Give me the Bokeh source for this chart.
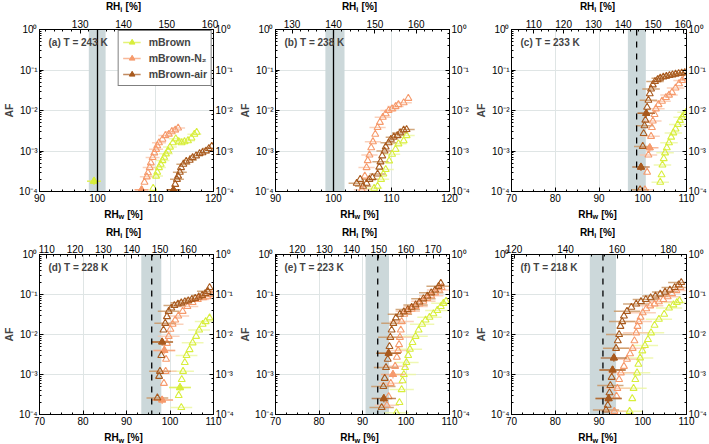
from bokeh.plotting import figure
from bokeh.models import (Range1d, LinearAxis, LogAxis, Label, BoxAnnotation, Span,
                          Legend, LegendItem, SingleIntervalTicker, CustomJSTickFormatter)
from bokeh.core.properties import value
from bokeh.layouts import column, row
from bokeh.embed import file_html
from bokeh.resources import INLINE

# ---------------- data ----------------
TAGS = ["(a)", "(b)", "(c)", "(d)", "(e)", "(f)"]
TEMPS = [243, 238, 233, 228, 223, 218]
RHW_MIN = [90, 90, 70, 70, 70, 70]
RHW_MAX = [120, 120, 110, 110, 110, 110]
RHI_RATIO = [1.34, 1.40, 1.465, 1.535, 1.60, 1.70]
RHI_STEP = [10, 10, 10, 10, 10, 20]
SAT_LINE = [100.0, 100.0, 98.6, 95.8, 93.5, 90.9]
SAT_DASHED = [False, False, True, True, True, True]
BAND_LO = [98.5, 98.6, 96.6, 93.4, 90.7, 87.9]
BAND_HI = [101.4, 101.9, 100.7, 98.0, 96.1, 93.9]
XERR_HALF = [1.2, 1.4, 2.0, 2.5, 2.8, 3.0]
SERIES = ["mBrown", "mBrown-N\u2082", "mBrown-air"]

A_MB_X = [99.4, 109.6, 110.1, 110.3, 110.6, 110.9, 111.2, 111.5, 111.8, 112.2, 112.5, 113.0, 113.5, 114.0, 114.5, 115.0, 115.6, 116.2, 116.7, 117.1]
A_MB_Y = [1.8e-4, 1.2e-4, 2.4e-4, 3e-4, 3.9e-4, 4.7e-4, 5.8e-4, 7e-4, 8.5e-4, 1.0e-3, 1.25e-3, 1.6e-3, 2.0e-3, 1.7e-3, 1.6e-3, 1.7e-3, 1.8e-3, 2.1e-3, 2.6e-3, 2.9e-3]
A_N2_X = [107.6, 108.1, 108.5, 108.7, 109.0, 109.2, 109.5, 109.8, 110.1, 110.3, 110.6, 111.2, 111.7, 112.3, 112.8, 113.4, 113.9]
A_N2_Y = [1.1e-4, 1.7e-4, 2.3e-4, 2.9e-4, 3.9e-4, 5.1e-4, 6.9e-4, 9e-4, 1.1e-3, 1.35e-3, 1.6e-3, 1.95e-3, 2.4e-3, 2.6e-3, 3.0e-3, 3.3e-3, 3.7e-3]
A_AIR_X = [113.1, 113.4, 113.7, 113.9, 114.2, 114.4, 114.8, 115.3, 115.9, 116.4, 117.0, 117.6, 118.1, 118.7, 119.2, 119.7]
A_AIR_Y = [1.1e-4, 1.5e-4, 2e-4, 2.4e-4, 3e-4, 3.9e-4, 4.7e-4, 5.6e-4, 5.9e-4, 6.9e-4, 7.6e-4, 8.7e-4, 9.1e-4, 1.0e-3, 1.15e-3, 1.3e-3]

B_MB_X = [107.0, 107.6, 108.2, 108.6, 109.0, 109.6, 110.1, 110.7, 111.2, 112.1, 112.6]
B_MB_Y = [1.2e-4, 1.35e-4, 2e-4, 2.7e-4, 3.5e-4, 5.7e-4, 8.3e-4, 1.1e-3, 1.5e-3, 1.8e-3, 2.4e-3]
B_N2_X = [104.9, 105.4, 105.7, 105.9, 106.2, 106.5, 106.8, 107.2, 107.6, 108.0, 108.5, 109.0, 109.5, 110.1, 110.7, 111.2, 112.1, 112.9]
B_N2_Y = [1.1e-4, 2.4e-4, 3.9e-4, 5.8e-4, 8e-4, 1.2e-3, 1.7e-3, 2.6e-3, 3.8e-3, 5.1e-3, 6.8e-3, 8.3e-3, 1.0e-2, 1.1e-2, 1.25e-2, 1.4e-2, 1.55e-2, 2.0e-2]
B_AIR_X = [104.0, 104.6, 105.1, 105.7, 106.2, 106.7, 107.6, 107.9, 108.1, 108.4, 108.8, 109.0, 109.5, 109.9, 110.4, 111.0, 111.5, 112.1, 112.6]
B_AIR_Y = [1.6e-4, 2.0e-4, 1.35e-4, 1.6e-4, 2.0e-4, 2.2e-4, 2.7e-4, 4e-4, 5.4e-4, 7.6e-4, 1.0e-3, 1.26e-3, 1.6e-3, 1.95e-3, 2.2e-3, 2.4e-3, 2.8e-3, 3.3e-3, 3.4e-3]

C_MB_X = [104.0, 104.3, 104.5, 104.8, 105.1, 105.5, 106.0, 106.5, 107.0, 107.5, 108.0, 108.5, 109.0, 109.5, 109.9]
C_MB_Y = [1.7e-4, 2.6e-4, 4.5e-4, 6.5e-4, 9e-4, 1.2e-3, 1.6e-3, 2.2e-3, 2.8e-3, 3.5e-3, 4.5e-3, 5.7e-3, 6.8e-3, 8e-3, 9e-3]
C_N2_X = [100.5, 101.0, 101.3, 101.6, 101.9, 102.1, 102.3, 102.7, 103.0, 103.6, 104.4, 105.3, 106.0, 106.7, 107.5, 108.3, 109.0, 109.7]
C_N2_Y = [1.1e-4, 3.0e-4, 8e-4, 1.2e-3, 2.3e-3, 3.8e-3, 5.5e-3, 8e-3, 1.1e-2, 1.4e-2, 1.7e-2, 2.1e-2, 2.4e-2, 2.8e-2, 3.6e-2, 4.6e-2, 5.5e-2, 6.5e-2]
C_AIR_X = [99.4, 99.6, 100.0, 100.2, 100.4, 100.6, 100.8, 101.0, 101.3, 101.6, 101.9, 102.3, 102.8, 103.4, 104.0, 104.7, 105.4, 106.1, 106.8, 107.5, 108.2, 108.9, 109.6]
C_AIR_Y = [1.1e-4, 4.0e-4, 1.3e-3, 2.7e-3, 4.2e-3, 5.8e-3, 8.5e-3, 1.2e-2, 1.8e-2, 2.6e-2, 3.4e-2, 4.3e-2, 5.2e-2, 5.8e-2, 6.3e-2, 6.7e-2, 7.0e-2, 7.3e-2, 7.6e-2, 7.9e-2, 8.2e-2, 8.4e-2, 8.6e-2]

D_MB_X = [102.6, 102.0, 102.3, 102.7, 103.0, 103.4, 103.8, 104.5, 105.2, 106.0, 106.7, 107.5, 108.2, 109.1]
D_MB_Y = [1.5e-4, 3.0e-4, 4.7e-4, 7.5e-4, 1.2e-3, 2.0e-3, 3.0e-3, 4.2e-3, 6.2e-3, 9e-3, 1.3e-2, 1.8e-2, 2.1e-2, 2.6e-2]
D_N2_X = [98.2, 98.6, 99.0, 99.1, 98.7, 99.3, 99.7, 100.1, 100.6, 101.2, 101.9, 102.9, 104.0, 105.2, 106.4, 107.6, 108.6, 109.5]
D_N2_Y = [2.3e-4, 6e-4, 1.2e-3, 2.4e-3, 4e-3, 6e-3, 9e-3, 1.35e-2, 1.8e-2, 2.3e-2, 2.9e-2, 3.8e-2, 5e-2, 6.3e-2, 7.5e-2, 8.3e-2, 8.8e-2, 1.0e-1]
D_AIR_X = [97.1, 97.5, 97.7, 98.0, 98.2, 98.5, 98.9, 99.3, 99.7, 100.3, 101.0, 101.8, 102.6, 103.4, 104.2, 105.0, 105.8, 106.6, 107.4, 108.1, 108.7, 109.1]
D_AIR_Y = [2.6e-4, 9e-4, 1.2e-3, 3e-3, 6.5e-3, 1.3e-2, 1.9e-2, 2.8e-2, 3.8e-2, 4.6e-2, 5.3e-2, 5.8e-2, 6.2e-2, 6.6e-2, 7.0e-2, 7.5e-2, 8.0e-2, 8.7e-2, 9.5e-2, 1.05e-1, 1.2e-1, 1.5e-1]

E_MB_X = [97.8, 98.5, 99.0, 99.2, 99.5, 99.8, 100.1, 100.5, 100.9, 101.5, 102.2, 102.9, 103.7, 104.5, 105.4, 106.3, 107.2, 108.0, 108.6, 109.2]
E_MB_Y = [1.1e-4, 2.0e-4, 4.2e-4, 7e-4, 1.0e-3, 1.5e-3, 2.0e-3, 3.0e-3, 4.3e-3, 6.3e-3, 9e-3, 1.3e-2, 1.8e-2, 2.3e-2, 2.7e-2, 3.3e-2, 4e-2, 5e-2, 6e-2, 6.8e-2]
E_N2_X = [95.6, 96.0, 96.5, 97.0, 97.5, 97.9, 98.2, 98.4, 98.6, 98.8, 99.0, 99.6, 100.4, 101.3, 102.2, 103.1, 104.0, 104.9, 105.8, 106.7, 107.6, 108.2]
E_N2_Y = [1.7e-4, 2.8e-4, 6e-4, 1.0e-3, 1.6e-3, 2.7e-3, 4e-3, 5.6e-3, 8.5e-3, 1.3e-2, 2.1e-2, 3.2e-2, 3.8e-2, 4.3e-2, 5e-2, 5.8e-2, 6.8e-2, 8e-2, 9.3e-2, 1.1e-1, 1.3e-1, 1.5e-1]
E_AIR_X = [94.4, 94.9, 94.8, 95.1, 95.4, 95.8, 96.0, 96.2, 96.4, 96.7, 97.1, 97.7, 98.6, 99.5, 100.4, 101.3, 102.2, 103.1, 104.0, 104.9, 105.8, 106.7, 107.5, 108.0]
E_AIR_Y = [1.5e-4, 2.5e-4, 5e-4, 8e-4, 1.5e-3, 2.4e-3, 3.4e-3, 5e-3, 8.5e-3, 1.3e-2, 1.9e-2, 2.6e-2, 3.2e-2, 3.7e-2, 4.2e-2, 4.8e-2, 5.5e-2, 6.5e-2, 7.8e-2, 9.2e-2, 1.1e-1, 1.3e-1, 1.6e-1, 1.9e-1]

F_MB_X = [97.0, 97.6, 97.9, 98.3, 98.7, 99.0, 99.4, 99.9, 100.5, 101.2, 101.9, 102.7, 103.7, 104.9, 106.0, 107.0, 107.8, 108.4]
F_MB_Y = [1.2e-4, 2.5e-4, 4.5e-4, 7.5e-4, 1.1e-3, 1.8e-3, 2.6e-3, 3.9e-3, 5.3e-3, 7.5e-3, 1.1e-2, 1.7e-2, 2.4e-2, 3.2e-2, 4.6e-2, 5.5e-2, 6.3e-2, 7e-2]
F_N2_X = [93.5, 94.0, 94.2, 94.6, 95.0, 95.7, 96.4, 97.1, 97.7, 98.1, 98.5, 98.8, 99.1, 99.5, 100.0, 100.8, 101.7, 102.7, 103.7, 104.7, 105.7, 106.7, 107.7, 108.6]
F_N2_Y = [1.2e-4, 2.9e-4, 4.5e-4, 7.5e-4, 1.1e-3, 1.6e-3, 2.4e-3, 3.3e-3, 4.5e-3, 7e-3, 1.1e-2, 1.6e-2, 2.1e-2, 2.7e-2, 3.5e-2, 4.4e-2, 5.2e-2, 5.8e-2, 6.6e-2, 7.5e-2, 8.8e-2, 1.05e-1, 1.25e-1, 1.5e-1]
F_AIR_X = [91.6, 92.0, 92.2, 92.4, 92.6, 92.9, 93.1, 93.4, 93.9, 94.3, 94.6, 94.9, 95.3, 95.7, 96.4, 97.4, 98.5, 99.6, 100.7, 101.8, 102.9, 104.0, 105.1, 106.2, 107.3, 108.2, 108.8]
F_AIR_Y = [1.3e-4, 1.7e-4, 2.5e-4, 3.5e-4, 5.3e-4, 8.5e-4, 1.3e-3, 2.6e-3, 4.5e-3, 7e-3, 1.0e-2, 1.6e-2, 2.1e-2, 2.9e-2, 3.8e-2, 4.8e-2, 5.8e-2, 6.7e-2, 7.5e-2, 8.3e-2, 9.2e-2, 1.03e-1, 1.15e-1, 1.3e-1, 1.5e-1, 1.75e-1, 2.0e-1]

# indices of points drawn filled with full error crosses (per panel, per series)
A_FILLED = [[0], [0], [0]]
B_FILLED = [[], [], []]
C_FILLED = [[], [3], [1, 6]]
D_FILLED = [[2], [0, 4], [4]]
E_FILLED = [[], [3], [1, 6]]
F_FILLED = [[], [], [2, 6, 7]]

PANEL_DATA = [
    [(A_MB_X, A_MB_Y), (A_N2_X, A_N2_Y), (A_AIR_X, A_AIR_Y)],
    [(B_MB_X, B_MB_Y), (B_N2_X, B_N2_Y), (B_AIR_X, B_AIR_Y)],
    [(C_MB_X, C_MB_Y), (C_N2_X, C_N2_Y), (C_AIR_X, C_AIR_Y)],
    [(D_MB_X, D_MB_Y), (D_N2_X, D_N2_Y), (D_AIR_X, D_AIR_Y)],
    [(E_MB_X, E_MB_Y), (E_N2_X, E_N2_Y), (E_AIR_X, E_AIR_Y)],
    [(F_MB_X, F_MB_Y), (F_N2_X, F_N2_Y), (F_AIR_X, F_AIR_Y)],
]
PANEL_FILLED = [A_FILLED, B_FILLED, C_FILLED, D_FILLED, E_FILLED, F_FILLED]

# ---------------- style ----------------
FONT = "Liberation Sans"
COLORS = ["#d8ee3c", "#f69a6c", "#a85a1e"]
ERR_COLORS = ["#ecf6a0", "#f9c6aa", "#c8945f"]
BAND_COLOR = "#ccd8da"
GRID_COLOR = "#dfe5e5"
TICK_FS = "10px"

SUP_CODE = """
const e = Math.round(Math.log10(tick));
const m = {"-": "\u207b", "0": "\u2070", "1": "\u00b9", "2": "\u00b2", "3": "\u00b3", "4": "\u2074", "5": "\u2075", "6": "\u2076", "7": "\u2077", "8": "\u2078", "9": "\u2079"};
return "10" + String(e).split("").map(c => m[c]).join("");
"""

FIG_W = [236, 236, 237]
BORDER_L = [33, 33, 35]
FRAME_W = 180
FIG_H = [195, 189]
BORDER_T = [16, 15]
BORDER_B = [17, 14]
STRIP_H = [13, 31, 16]
SUB_W = {"w": 0.78, "i": 0.30}
# per strip: (y of title centre in strip px, subscript)
STRIP_TITLES = [
    [(7.0, "i")],
    [(25.5, "w"), (7.0, "i")],
    [(7.0, "w")],
]


def style_axis(ax):
    ax.major_label_text_font = FONT
    ax.major_label_text_font_size = TICK_FS
    ax.major_label_text_color = "black"
    ax.axis_line_color = "black"
    ax.major_tick_in = 4
    ax.major_tick_out = 0
    ax.minor_tick_in = 2
    ax.minor_tick_out = 0
    ax.major_tick_line_color = "black"
    ax.minor_tick_line_color = "black"
    ax.major_label_standoff = 2


def make_strip(c, h, titles):
    w = FIG_W[c]
    s = figure(width=w, height=h, x_range=Range1d(0, w), y_range=Range1d(0, h),
               x_axis_type=None, y_axis_type=None, output_backend="svg",
               toolbar_location=None, min_border=0)
    s.outline_line_color = None
    fs, ss = 10.0, 7.2
    w_main = 1.444 * fs
    w_space = 0.278 * fs
    w_rest = 1.555 * fs
    cx = BORDER_L[c] + FRAME_W / 2
    kw = dict(text_font=value(FONT), text_font_style=value("bold"),
              text_color="black", text_baseline="middle", text_align="left")
    for (cy, sub) in titles:
        w_sub = SUB_W[sub] * ss + 0.3
        left = cx - (w_main + w_sub + w_space + w_rest) / 2
        s.text(x=[left], y=[cy], text=["RH"], text_font_size=value(f"{fs}px"), **kw)
        s.text(x=[left + w_main], y=[cy - 2.5], text=[sub], text_font_size=value(f"{ss}px"), **kw)
        s.text(x=[left + w_main + w_sub + w_space], y=[cy], text=["[%]"],
               text_font_size=value(f"{fs}px"), **kw)
    return s


figs = []
for i in range(6):
    r, c = divmod(i, 3)
    lo, hi = RHW_MIN[i], RHW_MAX[i]
    fh = FIG_H[r] - BORDER_T[r] - BORDER_B[r]
    p = figure(width=FIG_W[c], height=FIG_H[r], x_range=Range1d(lo, hi),
               y_range=Range1d(1e-4, 1), y_axis_type="log",
               output_backend="svg", toolbar_location=None,
               min_border_left=BORDER_L[c], min_border_right=FIG_W[c] - BORDER_L[c] - FRAME_W,
               min_border_top=BORDER_T[r], min_border_bottom=BORDER_B[r])
    p.outline_line_color = "black"
    p.outline_line_width = 1
    nminor = 5 if lo == 90 else 4

    xa = p.xaxis[0]
    xa.ticker = SingleIntervalTicker(interval=10, num_minor_ticks=nminor)
    style_axis(xa)

    ya = p.yaxis[0]
    ya.formatter = CustomJSTickFormatter(code=SUP_CODE)
    style_axis(ya)
    ya.axis_label = "AF"
    ya.axis_label_text_font = FONT
    ya.axis_label_text_font_style = "bold"
    ya.axis_label_text_font_size = "10.5px"
    ya.axis_label_standoff = 1

    ra = LogAxis(formatter=CustomJSTickFormatter(code=SUP_CODE))
    style_axis(ra)
    p.add_layout(ra, "right")

    ratio = RHI_RATIO[i]
    p.extra_x_ranges = {"rhi": Range1d(lo * ratio, hi * ratio)}
    ta = LinearAxis(x_range_name="rhi",
                    ticker=SingleIntervalTicker(interval=RHI_STEP[i], num_minor_ticks=nminor))
    style_axis(ta)
    p.add_layout(ta, "above")

    p.xgrid.grid_line_color = GRID_COLOR
    p.ygrid.grid_line_color = GRID_COLOR

    p.add_layout(BoxAnnotation(left=BAND_LO[i], right=BAND_HI[i], fill_color=BAND_COLOR,
                               fill_alpha=1.0, line_color=None, level="underlay"))
    p.add_layout(Span(location=SAT_LINE[i], dimension="height", line_color="black",
                      line_width=1.3, line_dash="dashed" if SAT_DASHED[i] else "solid"))

    e = XERR_HALF[i]
    for k, (xs, ys) in enumerate(PANEL_DATA[i]):
        ex = [x for j, x in enumerate(xs) if j % 2 == 0]
        ey = [y for j, y in enumerate(ys) if j % 2 == 0]
        p.segment(x0=[x - e for x in ex], y0=ey, x1=[x + e for x in ex], y1=ey,
                  line_color=ERR_COLORS[k], line_width=1.5, line_alpha=0.8)
    legend_renderers = []
    for k, (xs, ys) in enumerate(PANEL_DATA[i]):
        p.scatter(xs, ys, marker="triangle", size=7, fill_color=None,
                  line_color=COLORS[k], line_width=1.1)
        idx = PANEL_FILLED[i][k]
        fx = [xs[j] for j in idx]
        fy = [ys[j] for j in idx]
        hc = p.segment(x0=[x - e for x in fx], y0=fy, x1=[x + e for x in fx], y1=fy,
                       line_color=COLORS[k], line_width=1.5, line_alpha=0.7)
        p.segment(x0=fx, y0=[y / 1.25 for y in fy], x1=fx, y1=[y * 1.25 for y in fy],
                  line_color=COLORS[k], line_width=1.5, line_alpha=0.7)
        ft = p.scatter(fx, fy, marker="triangle", size=7, fill_color=COLORS[k],
                       line_color=COLORS[k], line_width=1.0)
        legend_renderers.append((hc, ft))

    p.add_layout(Label(x=9, y=fh - 13, x_units="screen", y_units="screen",
                       text=f"{TAGS[i]} T = {TEMPS[i]} K", text_font=FONT,
                       text_font_style="bold", text_font_size="10px",
                       text_baseline="middle"))

    if i == 0:
        items = [LegendItem(label=name, renderers=list(legend_renderers[k]))
                 for k, name in enumerate(SERIES)]
        leg = Legend(items=items, location="top_right", border_line_color="black",
                     border_line_width=1, label_text_font=FONT, label_text_font_style="bold",
                     label_text_font_size="10.5px", glyph_width=18, glyph_height=14,
                     spacing=2, padding=4, margin=1, label_standoff=8,
                     background_fill_alpha=1.0)
        p.add_layout(leg)
    figs.append(p)

strips = [row(*[make_strip(c, STRIP_H[s], STRIP_TITLES[s]) for c in range(3)]) for s in range(3)]
layout = column(strips[0], row(*figs[:3]), strips[1], row(*figs[3:]), strips[2])
open("out.html", "w").write(file_html(layout, INLINE))
